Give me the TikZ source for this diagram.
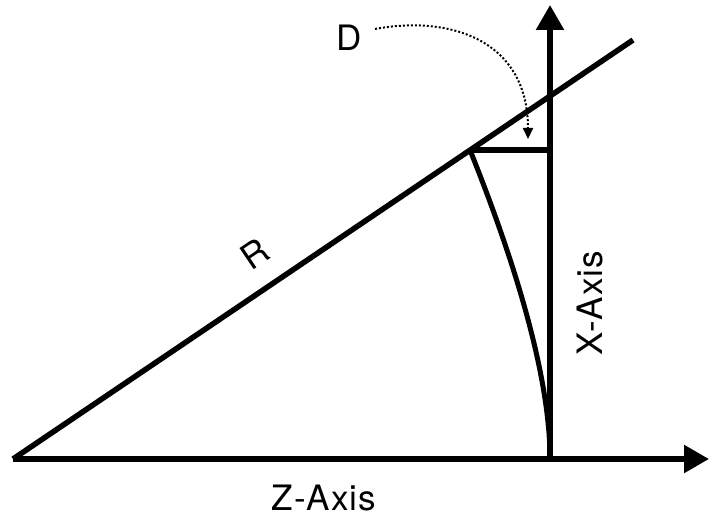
\documentclass[tikz,border=0pt]{standalone}
\usepackage{fontspec}
\setmainfont{TeX Gyre Heros}
\usetikzlibrary{arrows.meta}
\tikzset{
  axisline/.style={line width=5.5pt, -{Triangle[length=25pt,width=27pt]}},
  thickline/.style={line width=5.5pt},
  curveline/.style={line width=5pt},
  dotline/.style={line width=2pt, dotted, -{Triangle[length=11pt,width=10pt]}},
  lbl/.style={font=\fontsize{35}{40}\selectfont\addfontfeatures{LetterSpace=3}, inner sep=0pt}
}
\begin{document}
\begin{tikzpicture}[x=1pt,y=-1pt]
\useasboundingbox (0,0) rectangle (709,524);
\coordinate (O) at (13,459);
\coordinate (Zend) at (709,459);
\coordinate (Xbase) at (550,459);
\coordinate (Xend) at (550,5);
\coordinate (Rend) at (633,40);
\coordinate (P) at (470,150);
\coordinate (Q) at (550,150);
\coordinate (Dtip) at (528,139);
\draw[thickline] (O) -- (Rend);
\draw[axisline] (O) -- (Zend);
\draw[axisline] (Xbase) -- (Xend);
\draw[thickline] (P) -- (Q);
\draw[curveline] (Xbase) .. controls (550,370) and (510,250) .. (P);
\node[lbl] (D) at (349,38) {D};
\draw[dotline] (375,29) .. controls (450,15) and (528,40) .. (Dtip);
\node[lbl, rotate=34] (R) at (255,254) {R};
\node[lbl, rotate=90] (X) at (590,303) {X-Axis};
\node[lbl] (Z) at (324,498) {Z-Axis};
\end{tikzpicture}
\end{document}
